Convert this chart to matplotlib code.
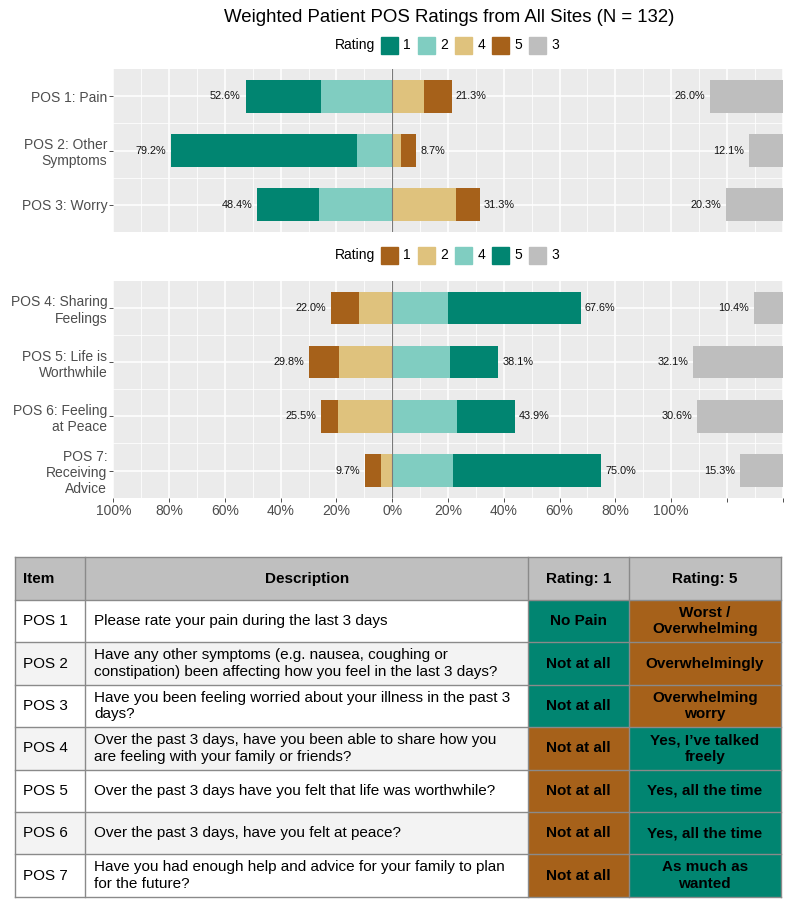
import matplotlib
matplotlib.use("Agg")
import matplotlib.pyplot as plt
from matplotlib.patches import Rectangle

plt.rcParams["font.family"] = ["Liberation Sans", "DejaVu Sans"]

# ---- chart data (percent of weighted patients) ----
items_top = ["POS 1: Pain", "POS 2: Other\nSymptoms", "POS 3: Worry"]
top_r1 = [27.0, 66.6, 22.1]
top_r2 = [25.6, 12.6, 26.3]
top_r4 = [11.5, 3.2, 23.0]
top_r5 = [9.8, 5.5, 8.3]
top_r3 = [26.0, 12.1, 20.3]

items_bot = ["POS 4: Sharing\nFeelings", "POS 5: Life is\nWorthwhile",
             "POS 6: Feeling\nat Peace", "POS 7:\nReceiving\nAdvice"]
bot_r1 = [10.1, 10.7, 6.2, 5.7]
bot_r2 = [11.9, 19.1, 19.3, 4.0]
bot_r4 = [20.0, 20.7, 23.4, 21.8]
bot_r5 = [47.6, 17.4, 20.5, 53.2]
bot_r3 = [10.4, 32.1, 30.6, 15.3]

x_ticks = [-100, -80, -60, -40, -20, 0, 20, 40, 60, 80, 100, 120, 140]
x_labels = ["100%", "80%", "60%", "40%", "20%", "0%", "20%", "40%", "60%",
            "80%", "100%", "", ""]
legend_labels = ["1", "2", "4", "5", "3"]

# ---- table data ----
tab_items = ["POS 1", "POS 2", "POS 3", "POS 4", "POS 5", "POS 6", "POS 7"]
tab_desc = [
    "Please rate your pain during the last 3 days",
    "Have any other symptoms (e.g. nausea, coughing or\nconstipation) been affecting how you feel in the last 3 days?",
    "Have you been feeling worried about your illness in the past 3\ndays?",
    "Over the past 3 days, have you been able to share how you\nare feeling with your family or friends?",
    "Over the past 3 days have you felt that life was worthwhile?",
    "Over the past 3 days, have you felt at peace?",
    "Have you had enough help and advice for your family to plan\nfor the future?",
]
tab_rating1 = ["No Pain", "Not at all", "Not at all", "Not at all",
               "Not at all", "Not at all", "Not at all"]
tab_rating5 = ["Worst /\nOverwhelming", "Overwhelmingly", "Overwhelming\nworry",
               "Yes, I\u2019ve talked\nfreely", "Yes, all the time",
               "Yes, all the time", "As much as\nwanted"]
tab_good_low = [True, True, True, False, False, False, False]

# colours (BrBG)
BROWN, TAN, NEUTRAL, MINT, TEAL = "#A6611A", "#DFC27D", "#BEBEBE", "#80CDC1", "#018571"

W, H = 789, 902
fig = plt.figure(figsize=(W / 100, H / 100), dpi=100)


def px_axes(x0, y0, x1, y1):
    return fig.add_axes([x0 / W, 1 - y1 / H, (x1 - x0) / W, (y1 - y0) / H])


def likert_panel(ax, items, r1, r2, r4, r5, r3, cols, show_x):
    n = len(items)
    ys = list(range(1, n + 1))
    c1, c2, c4, c5 = cols
    ax.set_facecolor("#EBEBEB")
    h = 0.6
    neg_in = [-v for v in r2]
    neg_out = [-(a + b) for a, b in zip(r1, r2)]
    ax.barh(ys, r2, left=neg_in, height=h, color=c2, zorder=3)
    ax.barh(ys, r1, left=neg_out, height=h, color=c1, zorder=3)
    ax.barh(ys, r4, left=0, height=h, color=c4, zorder=3)
    ax.barh(ys, r5, left=r4, height=h, color=c5, zorder=3)
    ax.barh(ys, r3, left=[140 - v for v in r3], height=h, color=NEUTRAL, zorder=3)
    ax.axvline(0, color="#7a7a7a", lw=0.8, zorder=4)
    for y, a, b, c, d, e in zip(ys, r1, r2, r4, r5, r3):
        lt, rt = a + b, c + d
        ax.annotate(f"{lt:.1f}%", (-lt, y), xytext=(-3.4, 0), textcoords="offset points",
                    ha="right", va="center", fontsize=7.8, color="#111111")
        ax.annotate(f"{rt:.1f}%", (rt, y), xytext=(3.0, 0), textcoords="offset points",
                    ha="left", va="center", fontsize=7.8, color="#111111")
        ax.annotate(f"{e:.1f}%", (140 - e, y), xytext=(-3.4, 0), textcoords="offset points",
                    ha="right", va="center", fontsize=7.8, color="#111111")
    ax.set_xlim(-100, 140)
    ax.set_ylim(n + 0.5, 0.5)
    ax.set_xticks(x_ticks)
    ax.set_xticks([t + 10 for t in x_ticks[:-1]], minor=True)
    ax.set_yticks(ys)
    ax.set_yticks([y + 0.5 for y in ys[:-1]], minor=True)
    ax.set_yticklabels(items, fontsize=10, color="#4D4D4D", linespacing=1.2)
    ax.grid(True, which="major", color="white", lw=1.1, zorder=0)
    ax.grid(True, which="minor", color="white", lw=0.55, zorder=0)
    ax.set_axisbelow(True)
    for s in ax.spines.values():
        s.set_visible(False)
    ax.tick_params(axis="y", which="major", length=2.8, width=0.6, color="#333333", pad=1.5)
    ax.tick_params(which="minor", length=0)
    if show_x:
        ax.set_xticklabels(x_labels, fontsize=10, color="#4D4D4D")
        ax.tick_params(axis="x", which="major", length=2.8, width=0.6, color="#333333", pad=2)
    else:
        ax.tick_params(axis="x", which="major", length=0, labelbottom=False)


ax_top = px_axes(113.3, 69.3, 782.7, 231.7)
likert_panel(ax_top, items_top, top_r1, top_r2, top_r4, top_r5, top_r3,
             (TEAL, MINT, TAN, BROWN), False)
ax_bot = px_axes(113.3, 280.7, 782.7, 497.7)
likert_panel(ax_bot, items_bot, bot_r1, bot_r2, bot_r4, bot_r5, bot_r3,
             (BROWN, TAN, MINT, TEAL), True)

# overlay in pixel coordinates for title, legends and table
ov = fig.add_axes([0, 0, 1, 1], zorder=-1)
ov.set_xlim(0, W)
ov.set_ylim(H, 0)
ov.axis("off")

ov.text(449, 17, "Weighted Patient POS Ratings from All Sites (N = 132)",
        ha="center", va="center", fontsize=13.4, color="black")


def draw_legend(y, colors):
    ov.text(335, y, "Rating", ha="left", va="center", fontsize=10, color="black")
    for i, (lab, col) in enumerate(zip(legend_labels, colors)):
        x = 381 + i * 37.1
        ov.add_patch(Rectangle((x, y - 8.5), 17, 17, color=col))
        ov.text(x + 22.5, y, lab, ha="left", va="center", fontsize=10, color="black")


draw_legend(45, [TEAL, MINT, TAN, BROWN, NEUTRAL])
draw_legend(255, [BROWN, TAN, MINT, TEAL, NEUTRAL])

# ---- table ----
col_edges = [15, 85.5, 528, 628.7, 781]
row_edges = [557.3, 600, 642.3, 685, 727.3, 769.7, 812, 854.3, 896.7]
line_col = "#8a8a8a"
fs = 11
ls = 1.22

ov.add_patch(Rectangle((col_edges[0], row_edges[0]), col_edges[-1] - col_edges[0],
                       row_edges[1] - row_edges[0], color="#BFBFBF", lw=0))
hy = (row_edges[0] + row_edges[1]) / 2
ov.text(col_edges[0] + 8, hy, "Item", ha="left", va="center", fontsize=fs, weight="bold")
ov.text((col_edges[1] + col_edges[2]) / 2, hy, "Description", ha="center", va="center",
        fontsize=fs, weight="bold")
ov.text((col_edges[2] + col_edges[3]) / 2, hy, "Rating: 1", ha="center", va="center",
        fontsize=fs, weight="bold")
ov.text((col_edges[3] + col_edges[4]) / 2, hy, "Rating: 5", ha="center", va="center",
        fontsize=fs, weight="bold")

for i, (it, de, a, b, low) in enumerate(zip(tab_items, tab_desc, tab_rating1,
                                            tab_rating5, tab_good_low)):
    y0, y1 = row_edges[i + 1], row_edges[i + 2]
    yc = (y0 + y1) / 2
    bg = "white" if i % 2 == 0 else "#F3F3F3"
    ov.add_patch(Rectangle((col_edges[0], y0), col_edges[2] - col_edges[0], y1 - y0,
                           color=bg, lw=0))
    c1, c5 = (TEAL, BROWN) if low else (BROWN, TEAL)
    ov.add_patch(Rectangle((col_edges[2], y0), col_edges[3] - col_edges[2], y1 - y0,
                           color=c1, lw=0))
    ov.add_patch(Rectangle((col_edges[3], y0), col_edges[4] - col_edges[3], y1 - y0,
                           color=c5, lw=0))
    ov.text(col_edges[0] + 8, yc, it, ha="left", va="center", fontsize=fs)
    ov.text(col_edges[1] + 8.5, yc, de, ha="left", va="center", fontsize=fs,
            linespacing=ls)
    ov.text((col_edges[2] + col_edges[3]) / 2, yc, a, ha="center", va="center",
            fontsize=fs, weight="bold", linespacing=ls)
    ov.text((col_edges[3] + col_edges[4]) / 2, yc, b, ha="center", va="center",
            fontsize=fs, weight="bold", linespacing=ls)

for y in row_edges:
    ov.plot([col_edges[0], col_edges[-1]], [y, y], color=line_col, lw=1.0)
for x in col_edges:
    ov.plot([x, x], [row_edges[0], row_edges[-1]], color=line_col, lw=1.0)

fig.savefig("out.png", dpi=100)
